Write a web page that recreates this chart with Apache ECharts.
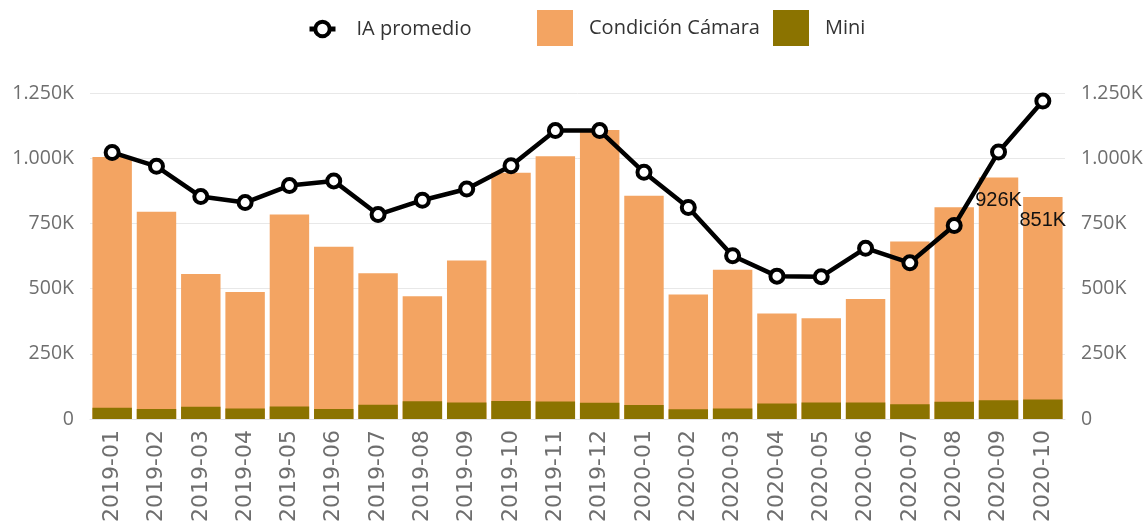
<!DOCTYPE html>
<html>
<head>
<meta charset="utf-8">
<script src="https://cdn.jsdelivr.net/npm/echarts@6/dist/echarts.min.js"></script>
<style>
html,body{margin:0;padding:0;background:#fff;}
#chart{width:1146px;height:525px;}
</style>
</head>
<body>
<div id="chart"></div>
<script>
// Values in thousands (K)
const months = ['2019-01','2019-02','2019-03','2019-04','2019-05','2019-06','2019-07','2019-08','2019-09','2019-10','2019-11','2019-12','2020-01','2020-02','2020-03','2020-04','2020-05','2020-06','2020-07','2020-08','2020-09','2020-10'];
const camara = [1005, 795, 556, 487, 784, 661, 559, 471, 608, 944, 1008, 1108, 856, 478, 572, 405, 387, 460, 681, 812, 926, 851];
const mini = [43, 39, 47, 41, 48, 39, 55, 68, 64, 69, 67, 63, 54, 38, 41, 60, 64, 64, 57, 66, 72, 75];
const iaPromedio = [1022, 969, 853, 830, 895, 913, 784, 839, 882, 971, 1106, 1106, 946, 811, 626, 548, 546, 655, 599, 742, 1024, 1219];
const labeledMonths = ['2020-09', '2020-10'];
const yTicks = {min: 0, max: 1250, interval: 250};

function fmtK(v) {
  if (v === 0) return '0';
  const s = String(Math.round(v)).replace(/\B(?=(\d{3})+(?!\d))/g, '.');
  return s + 'K';
}

const chart = echarts.init(document.getElementById('chart'));
const axisTextColor = '#6e6e6e';
const uiFont = 'Open Sans';

const yAxisCommon = {
  type: 'value',
  min: yTicks.min, max: yTicks.max, interval: yTicks.interval,
  axisLine: {show: false},
  axisTick: {show: false},
  axisLabel: {formatter: fmtK, color: axisTextColor, fontFamily: uiFont, fontSize: 19.5, margin: 16},
  splitLine: {show: true, lineStyle: {color: '#e8e8e8', width: 1}}
};

const legendText = {color: '#333333', fontFamily: uiFont, fontSize: 20};

chart.setOption({
  animation: false,
  backgroundColor: '#ffffff',
  grid: {left: 90, right: 81, top: 93, bottom: 104.5},
  legend: [
    {data: ['IA promedio'], left: 307, top: 19, padding: 0, itemWidth: 26, itemHeight: 18,
     lineStyle: {width: 5, color: '#000'},
     itemStyle: {color: '#fff', borderColor: '#000', borderWidth: 4},
     textStyle: Object.assign({padding: [0, 0, 0, 16]}, legendText)},
    {data: ['Condición Cámara'], left: 537, top: 10, padding: 0, itemWidth: 36, itemHeight: 36, icon: 'rect',
     textStyle: Object.assign({padding: [0, 0, 0, 11]}, legendText)},
    {data: ['Mini'], left: 773, top: 10, padding: 0, itemWidth: 36, itemHeight: 36, icon: 'rect',
     textStyle: Object.assign({padding: [0, 0, 0, 11]}, legendText)}
  ],
  xAxis: {
    type: 'category',
    data: months,
    axisLine: {show: true, lineStyle: {color: '#e3e3e3', width: 1}},
    axisTick: {show: false},
    axisLabel: {rotate: 90, color: axisTextColor, fontFamily: 'DejaVu Sans', fontSize: 22, margin: 11, interval: 0}
  },
  yAxis: [
    Object.assign({position: 'left'}, yAxisCommon),
    Object.assign({position: 'right'}, yAxisCommon, {splitLine: {show: false}})
  ],
  series: [
    {
      name: 'Condición Cámara',
      type: 'bar',
      data: camara.map((v, i) => ({
        value: v,
        label: {show: labeledMonths.indexOf(months[i]) >= 0}
      })),
      barCategoryGap: '11%',
      barGap: '-100%',
      itemStyle: {color: '#F3A462'},
      label: {
        position: 'insideTop', distance: 13,
        formatter: p => fmtK(p.value),
        color: '#111', fontFamily: 'Liberation Sans', fontSize: 20
      },
      z: 2
    },
    {
      name: 'Mini',
      type: 'bar',
      data: mini,
      barCategoryGap: '11%',
      barGap: '-100%',
      itemStyle: {color: '#8B7300'},
      z: 3
    },
    {
      name: 'IA promedio',
      type: 'line',
      yAxisIndex: 1,
      data: iaPromedio,
      symbol: 'circle',
      symbolSize: 13,
      lineStyle: {color: '#000', width: 4.5},
      itemStyle: {color: '#fff', borderColor: '#000', borderWidth: 4},
      z: 5
    }
  ]
});
</script>
</body>
</html>
